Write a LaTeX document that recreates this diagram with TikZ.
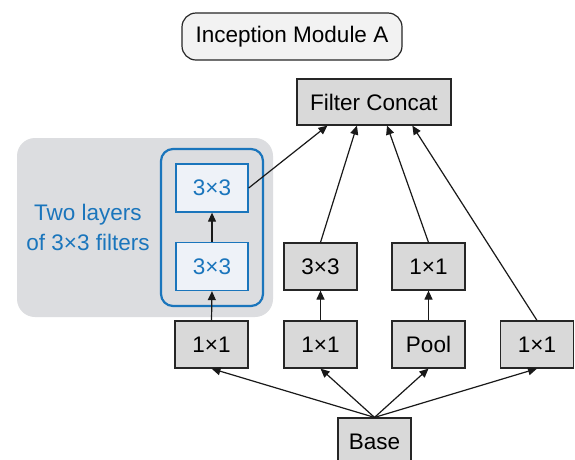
\documentclass[tikz,border=0pt]{standalone}
\usepackage{fontspec}
\setmainfont{Liberation Sans}
\usetikzlibrary{arrows.meta,calc}
\definecolor{boxgray}{HTML}{D9D9D9}
\definecolor{regiongray}{HTML}{DCDDE0}
\definecolor{titlefill}{HTML}{F2F2F2}
\definecolor{incblue}{HTML}{1A75BC}
\definecolor{bluefill}{HTML}{EEF2F8}
\begin{document}
\begin{tikzpicture}[x=1pt,y=-1pt,
  every node/.style={font=\fontsize{22.5}{27}\selectfont, inner sep=0pt},
  graybox/.style={draw=black!85, line width=1.2pt, fill=boxgray, minimum width=73pt, minimum height=47pt},
  bluebox/.style={draw=incblue, line width=1.3pt, fill=bluefill, text=incblue, minimum width=72pt, minimum height=48pt},
  conn/.style={line width=1.2pt, draw=black!90, -{Triangle[length=9pt,width=8pt]}},
  plain/.style={line width=1.2pt, draw=black!90}
]
\clip (0,0) rectangle (575,459);
\fill[white] (0,0) rectangle (575,459);
% gray region and blue group
\fill[regiongray, rounded corners=18pt] (17,138) rectangle (273,317);
\draw[incblue, line width=2.2pt, rounded corners=12pt] (161,149) rectangle (263,306);
\node[text=incblue, align=center, font=\fontsize{22.5}{30}\selectfont] (lbl) at (88,227) {Two layers\\of 3×3 filters};
% title
\node[draw=black!85, line width=1.2pt, fill=titlefill, rounded corners=14pt, minimum width=220pt, minimum height=47pt] (title) at (292,36.5) {Inception Module A};
% filter concat
\node[graybox, minimum width=154pt, minimum height=46pt] (fc) at (374,102) {Filter Concat};
% blue inner boxes
\node[bluebox] (up) at (212,188) {3×3};
\node[bluebox] (lo) at (212,266.5) {3×3};
% middle row
\node[graybox] (m2) at (320.5,266.5) {3×3};
\node[graybox] (m3) at (428.5,266.5) {1×1};
% bottom row
\node[graybox] (b1) at (211.5,344.5) {1×1};
\node[graybox] (b2) at (320.5,344.5) {1×1};
\node[graybox] (b3) at (428.5,344.5) {Pool};
\node[graybox] (b4) at (537,344.5) {1×1};
\node[graybox] (base) at (374.5,441.5) {Base};
% connectors
\coordinate (t1) at ($(fc.south west)!0.2!(fc.south east)$);
\coordinate (t2) at ($(fc.south west)!0.39!(fc.south east)$);
\coordinate (t3) at ($(fc.south west)!0.584!(fc.south east)$);
\coordinate (t4) at ($(fc.south west)!0.747!(fc.south east)$);
\draw[conn] (up.east) -- (t1);
\draw[conn] (m2.north) -- (t2);
\draw[conn] (m3.north) -- (t3);
\draw[conn] (b4.north) -- (t4);
\draw[conn] (lo.north) -- (up.south);
\draw[conn] (b1.north) -- (lo.south);
\draw[conn] (b2.north) -- (m2.south);
\draw[conn] (b3.north) -- (m3.south);
\draw[conn] (base.north) -- (b1.south);
\draw[conn] (base.north) -- (b2.south);
\draw[conn] (base.north) -- (b3.south);
\draw[conn] (base.north) -- (b4.south);
\end{tikzpicture}
\end{document}
